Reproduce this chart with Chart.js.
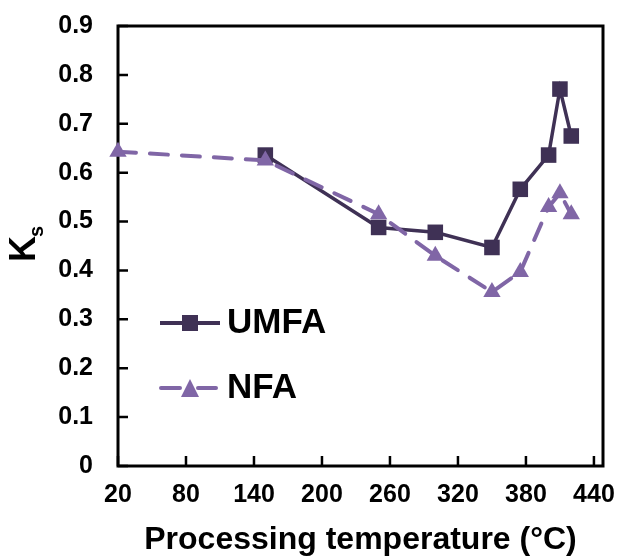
<!DOCTYPE html>
<html>
<head>
<meta charset="utf-8">
<script src="https://cdn.jsdelivr.net/npm/chart.js@4/dist/chart.umd.min.js"></script>
<style>
  html, body { margin: 0; padding: 0; background: #fff; }
  canvas { display: block; }
</style>
</head>
<body>
<canvas id="chartKs" width="619" height="556"></canvas>
<script>
// Datos
const tempUMFA = [150, 250, 300, 350, 375, 400, 410, 420];
const ksUMFA = [0.636, 0.488, 0.478, 0.447, 0.566, 0.636, 0.771, 0.675];
const tempNFA = [20, 150, 250, 300, 350, 375, 400, 410, 420];
const ksNFA = [0.643, 0.625, 0.515, 0.43, 0.356, 0.397, 0.53, 0.558, 0.515];
const xTicks = [20, 80, 140, 200, 260, 320, 380, 440];
const yTicks = [0, 0.1, 0.2, 0.3, 0.4, 0.5, 0.6, 0.7, 0.8, 0.9];
const yTickLabels = ['0', '0.1', '0.2', '0.3', '0.4', '0.5', '0.6', '0.7', '0.8', '0.9'];
const seriesNames = ['UMFA', 'NFA'];

const COLOR_UMFA = '#3f3155';
const COLOR_NFA = '#8066a6';
const FONT = "'Liberation Sans', Arial, sans-serif";

function toPoints(xs, ys) {
    return xs.map((x, i) => ({ x: x, y: ys[i] }));
}

// marco, marcas hacia dentro, leyenda y título del eje Y
const framePlugin = {
    id: 'framePlugin',
    beforeDatasetsDraw(chart) {
        const { ctx, chartArea: a, scales } = chart;
        ctx.save();
        ctx.strokeStyle = '#000';
        ctx.lineWidth = 3;
        ctx.strokeRect(a.left, a.top, a.right - a.left, a.bottom - a.top);
        ctx.lineWidth = 2.5;
        ctx.beginPath();
        scales.y.ticks.forEach((t, i) => {
            const py = scales.y.getPixelForTick(i);
            ctx.moveTo(a.left, py);
            ctx.lineTo(a.left + 10, py);
        });
        scales.x.ticks.forEach((t, i) => {
            const px = scales.x.getPixelForTick(i);
            ctx.moveTo(px, a.bottom);
            ctx.lineTo(px, a.bottom - 10);
        });
        ctx.stroke();
        ctx.restore();
    },
    afterDraw(chart) {
        const ctx = chart.ctx;
        ctx.save();
        // leyenda
        ctx.lineWidth = 4;
        ctx.strokeStyle = COLOR_UMFA;
        ctx.beginPath();
        ctx.moveTo(160, 323);
        ctx.lineTo(220, 323);
        ctx.stroke();
        ctx.fillStyle = COLOR_UMFA;
        ctx.fillRect(182, 315, 16, 16);

        ctx.strokeStyle = COLOR_NFA;
        ctx.lineCap = 'round';
        ctx.setLineDash([19, 18]);
        ctx.beginPath();
        ctx.moveTo(161, 388);
        ctx.lineTo(216, 388);
        ctx.stroke();
        ctx.setLineDash([]);
        ctx.fillStyle = COLOR_NFA;
        ctx.beginPath();
        ctx.moveTo(190, 379);
        ctx.lineTo(199, 397);
        ctx.lineTo(181, 397);
        ctx.closePath();
        ctx.fill();

        ctx.fillStyle = '#000';
        ctx.font = 'bold 35px ' + FONT;
        ctx.textAlign = 'left';
        ctx.textBaseline = 'alphabetic';
        ctx.fillText(seriesNames[0], 227, 333);
        ctx.fillText(seriesNames[1], 227, 398);

        // título eje Y: K con subíndice s
        ctx.translate(35, 262);
        ctx.rotate(-Math.PI / 2);
        ctx.font = 'bold 36px ' + FONT;
        ctx.fillText('K', 0, 0);
        const kw = ctx.measureText('K').width;
        ctx.font = 'bold 20px ' + FONT;
        ctx.fillText('s', kw - 1, 8);
        ctx.restore();
    }
};

// rejilla invisible: solo reserva el hueco entre eje y etiquetas
const hiddenGrid = (len) => ({
    display: true,
    drawOnChartArea: false,
    drawTicks: true,
    tickLength: len,
    color: 'rgba(0,0,0,0)'
});

const ctx = document.getElementById('chartKs').getContext('2d');
const chart = new Chart(ctx, {
    type: 'line',
    data: {
        datasets: [
            {
                label: seriesNames[1],
                data: toPoints(tempNFA, ksNFA),
                borderColor: COLOR_NFA,
                backgroundColor: COLOR_NFA,
                borderWidth: 4,
                borderDash: [18, 14],
                borderCapStyle: 'round',
                pointStyle: 'triangle',
                pointRadius: 10,
                pointBorderWidth: 0,
                pointBackgroundColor: COLOR_NFA,
                tension: 0,
                clip: false,
                order: 0
            },
            {
                label: seriesNames[0],
                data: toPoints(tempUMFA, ksUMFA),
                borderColor: COLOR_UMFA,
                backgroundColor: COLOR_UMFA,
                borderWidth: 3.5,
                pointStyle: 'rect',
                pointRadius: 11,
                pointBorderWidth: 0,
                pointBackgroundColor: COLOR_UMFA,
                tension: 0,
                clip: false,
                order: 1
            }
        ]
    },
    options: {
        responsive: false,
        animation: false,
        layout: { autoPadding: false, padding: { top: 26, right: 16, left: 0, bottom: 0 } },
        plugins: {
            legend: { display: false },
            tooltip: { enabled: false }
        },
        scales: {
            x: {
                type: 'linear',
                min: 20,
                max: 448,
                afterBuildTicks: (scale) => {
                    scale.ticks = xTicks.map(v => ({ value: v }));
                },
                afterFit: (scale) => { scale.height = 90; },
                grid: hiddenGrid(14),
                border: { display: false },
                ticks: {
                    color: '#000',
                    padding: 0,
                    maxRotation: 0,
                    autoSkip: false,
                    font: { family: FONT, size: 25, weight: 'bold' },
                    callback: (v) => String(v)
                },
                title: {
                    display: true,
                    text: 'Processing temperature (°C)',
                    color: '#000',
                    padding: { top: 0, bottom: 0 },
                    font: { family: FONT, size: 32, weight: 'bold', lineHeight: 1 }
                }
            },
            y: {
                min: 0,
                max: 0.9,
                afterBuildTicks: (scale) => {
                    scale.ticks = yTicks.map(v => ({ value: v }));
                },
                afterFit: (scale) => { scale.width = 118; },
                grid: hiddenGrid(25),
                border: { display: false },
                ticks: {
                    color: '#000',
                    padding: 0,
                    autoSkip: false,
                    font: { family: FONT, size: 25, weight: 'bold' },
                    callback: (v, i) => yTickLabels[i]
                }
            }
        }
    },
    plugins: [framePlugin]
});
</script>
</body>
</html>
